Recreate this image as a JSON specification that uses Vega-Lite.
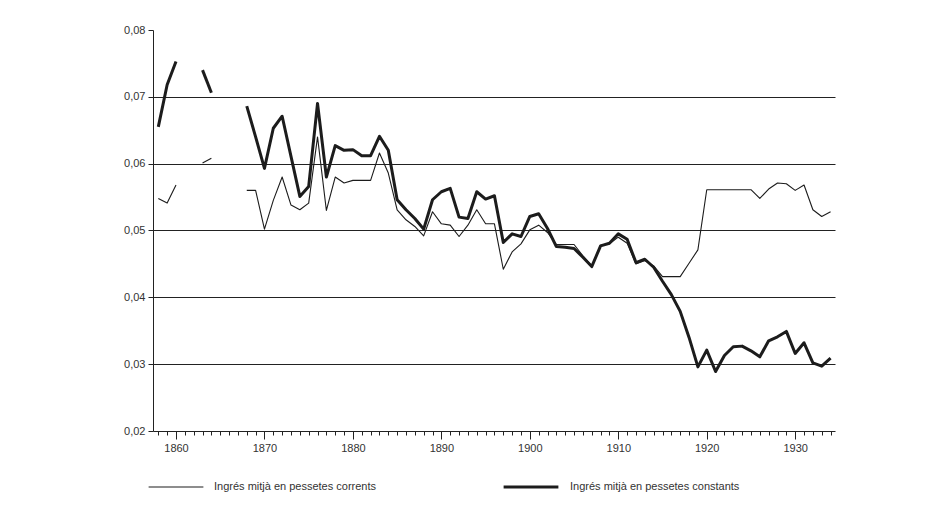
{
  "$schema": "https://vega.github.io/schema/vega-lite/v6.json",
  "width": 682,
  "height": 401,
  "autosize": "none",
  "padding": {"left": 153, "top": 30, "right": 116, "bottom": 81},
  "background": "white",
  "config": {"view": {"stroke": null}, "font": "Liberation Sans"},
  "data": {"values": [
    {"year": 1858, "seg": 1, "c": 0.0548, "k": 0.0655},
    {"year": 1859, "seg": 1, "c": 0.0541, "k": 0.0718},
    {"year": 1860, "seg": 1, "c": 0.0568, "k": 0.0753},
    {"year": 1863, "seg": 2, "c": 0.0601, "k": 0.0740},
    {"year": 1864, "seg": 2, "c": 0.0608, "k": 0.0706},
    {"year": 1868, "seg": 3, "c": 0.0560, "k": 0.0686},
    {"year": 1869, "seg": 3, "c": 0.0560, "k": 0.0640},
    {"year": 1870, "seg": 3, "c": 0.0502, "k": 0.0593},
    {"year": 1871, "seg": 3, "c": 0.0545, "k": 0.0653},
    {"year": 1872, "seg": 3, "c": 0.0580, "k": 0.0671},
    {"year": 1873, "seg": 3, "c": 0.0538, "k": 0.0611},
    {"year": 1874, "seg": 3, "c": 0.0531, "k": 0.0551},
    {"year": 1875, "seg": 3, "c": 0.0541, "k": 0.0566},
    {"year": 1876, "seg": 3, "c": 0.0640, "k": 0.0690},
    {"year": 1877, "seg": 3, "c": 0.0530, "k": 0.0580},
    {"year": 1878, "seg": 3, "c": 0.0580, "k": 0.0627},
    {"year": 1879, "seg": 3, "c": 0.0571, "k": 0.0620},
    {"year": 1880, "seg": 3, "c": 0.0575, "k": 0.0621},
    {"year": 1881, "seg": 3, "c": 0.0575, "k": 0.0612},
    {"year": 1882, "seg": 3, "c": 0.0575, "k": 0.0612},
    {"year": 1883, "seg": 3, "c": 0.0616, "k": 0.0641},
    {"year": 1884, "seg": 3, "c": 0.0586, "k": 0.0620},
    {"year": 1885, "seg": 3, "c": 0.0531, "k": 0.0546},
    {"year": 1886, "seg": 3, "c": 0.0516, "k": 0.0531},
    {"year": 1887, "seg": 3, "c": 0.0506, "k": 0.0518},
    {"year": 1888, "seg": 3, "c": 0.0492, "k": 0.0502},
    {"year": 1889, "seg": 3, "c": 0.0528, "k": 0.0546},
    {"year": 1890, "seg": 3, "c": 0.0510, "k": 0.0558},
    {"year": 1891, "seg": 3, "c": 0.0508, "k": 0.0563},
    {"year": 1892, "seg": 3, "c": 0.0491, "k": 0.0520},
    {"year": 1893, "seg": 3, "c": 0.0508, "k": 0.0518},
    {"year": 1894, "seg": 3, "c": 0.0531, "k": 0.0558},
    {"year": 1895, "seg": 3, "c": 0.0510, "k": 0.0547},
    {"year": 1896, "seg": 3, "c": 0.0510, "k": 0.0552},
    {"year": 1897, "seg": 3, "c": 0.0442, "k": 0.0482},
    {"year": 1898, "seg": 3, "c": 0.0468, "k": 0.0495},
    {"year": 1899, "seg": 3, "c": 0.0480, "k": 0.0491},
    {"year": 1900, "seg": 3, "c": 0.0501, "k": 0.0521},
    {"year": 1901, "seg": 3, "c": 0.0508, "k": 0.0525},
    {"year": 1902, "seg": 3, "c": 0.0497, "k": 0.0503},
    {"year": 1903, "seg": 3, "c": 0.0479, "k": 0.0476},
    {"year": 1904, "seg": 3, "c": 0.0479, "k": 0.0475},
    {"year": 1905, "seg": 3, "c": 0.0479, "k": 0.0473},
    {"year": 1906, "seg": 3, "c": 0.0462, "k": 0.0460},
    {"year": 1907, "seg": 3, "c": 0.0447, "k": 0.0446},
    {"year": 1908, "seg": 3, "c": 0.0478, "k": 0.0477},
    {"year": 1909, "seg": 3, "c": 0.0480, "k": 0.0481},
    {"year": 1910, "seg": 3, "c": 0.0490, "k": 0.0495},
    {"year": 1911, "seg": 3, "c": 0.0481, "k": 0.0487},
    {"year": 1912, "seg": 3, "c": 0.0450, "k": 0.0452},
    {"year": 1913, "seg": 3, "c": 0.0455, "k": 0.0457},
    {"year": 1914, "seg": 3, "c": 0.0447, "k": 0.0445},
    {"year": 1915, "seg": 3, "c": 0.0431, "k": 0.0424},
    {"year": 1916, "seg": 3, "c": 0.0431, "k": 0.0404},
    {"year": 1917, "seg": 3, "c": 0.0431, "k": 0.0379},
    {"year": 1918, "seg": 3, "c": 0.0451, "k": 0.0340},
    {"year": 1919, "seg": 3, "c": 0.0471, "k": 0.0296},
    {"year": 1920, "seg": 3, "c": 0.0561, "k": 0.0321},
    {"year": 1921, "seg": 3, "c": 0.0561, "k": 0.0289},
    {"year": 1922, "seg": 3, "c": 0.0561, "k": 0.0313},
    {"year": 1923, "seg": 3, "c": 0.0561, "k": 0.0326},
    {"year": 1924, "seg": 3, "c": 0.0561, "k": 0.0327},
    {"year": 1925, "seg": 3, "c": 0.0561, "k": 0.0320},
    {"year": 1926, "seg": 3, "c": 0.0548, "k": 0.0311},
    {"year": 1927, "seg": 3, "c": 0.0562, "k": 0.0335},
    {"year": 1928, "seg": 3, "c": 0.0571, "k": 0.0341},
    {"year": 1929, "seg": 3, "c": 0.0570, "k": 0.0349},
    {"year": 1930, "seg": 3, "c": 0.0560, "k": 0.0316},
    {"year": 1931, "seg": 3, "c": 0.0568, "k": 0.0332},
    {"year": 1932, "seg": 3, "c": 0.0531, "k": 0.0302},
    {"year": 1933, "seg": 3, "c": 0.0521, "k": 0.0297},
    {"year": 1934, "seg": 3, "c": 0.0528, "k": 0.0309}
  ]},
  "transform": [
    {"fold": ["c", "k"], "as": ["key", "value"]},
    {"lookup": "key", "from": {"data": {"values": [
      {"key": "c", "series": "Ingrés mitjà en pessetes corrents"},
      {"key": "k", "series": "Ingrés mitjà en pessetes constants"}
    ]}, "key": "key", "fields": ["series"]}}
  ],
  "mark": {"type": "line", "color": "#1c1c1c", "strokeJoin": "round"},
  "encoding": {
    "x": {
      "field": "year", "type": "quantitative",
      "scale": {"domain": [1857.4, 1934.5], "nice": false, "zero": false},
      "axis": {
        "title": null, "grid": false,
        "values": [1858,1859,1860,1861,1862,1863,1864,1865,1866,1867,1868,1869,1870,1871,1872,1873,1874,1875,1876,1877,1878,1879,1880,1881,1882,1883,1884,1885,1886,1887,1888,1889,1890,1891,1892,1893,1894,1895,1896,1897,1898,1899,1900,1901,1902,1903,1904,1905,1906,1907,1908,1909,1910,1911,1912,1913,1914,1915,1916,1917,1918,1919,1920,1921,1922,1923,1924,1925,1926,1927,1928,1929,1930,1931,1932,1933,1934],
        "labelExpr": "datum.value % 10 === 0 ? '' + datum.value : ''",
        "tickSize": {"condition": {"test": "datum.value % 10 === 0", "value": 8}, "value": 4},
        "domainColor": "#222", "tickColor": "#222", "labelColor": "#333",
        "labelFontSize": 11, "labelPadding": 3, "labelFlush": false, "labelOverlap": false
      }
    },
    "y": {
      "field": "value", "type": "quantitative",
      "scale": {"domain": [0.02, 0.08], "nice": false, "zero": false},
      "axis": {
        "title": null, "grid": true,
        "values": [0.02, 0.03, 0.04, 0.05, 0.06, 0.07, 0.08],
        "labelExpr": "replace(format(datum.value, '.2f'), '.', ',')",
        "gridColor": "#222", "gridWidth": 1,
        "gridOpacity": {"condition": {"test": "datum.value > 0.075 || datum.value < 0.025", "value": 0}, "value": 1},
        "domainColor": "#222", "tickColor": "#222", "tickSize": 5, "labelColor": "#333",
        "labelFontSize": 11, "labelPadding": 3
      }
    },
    "strokeWidth": {
      "field": "series", "type": "nominal",
      "scale": {"domain": ["Ingrés mitjà en pessetes corrents", "Ingrés mitjà en pessetes constants"], "range": [1.1, 3]},
      "legend": {
        "title": null, "orient": "none", "legendX": -5, "legendY": 428,
        "direction": "horizontal", "symbolType": "stroke", "symbolSize": 3000,
        "symbolStrokeColor": "#1c1c1c", "labelFontSize": 11, "labelColor": "#333",
        "columnPadding": 120, "labelLimit": 400, "labelOffset": 10
      }
    },
    "detail": {"field": "seg", "type": "nominal"}
  }
}
